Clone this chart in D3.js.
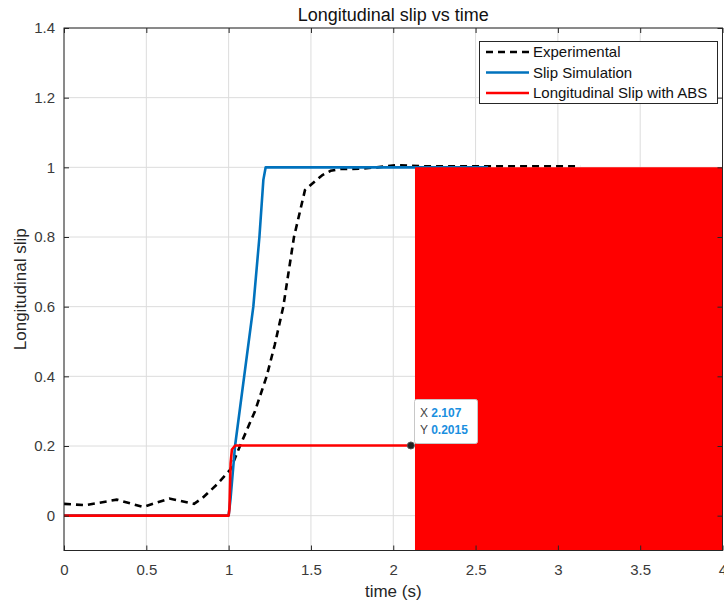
<!DOCTYPE html>
<html>
<head>
<meta charset="utf-8">
<script src="https://cdn.jsdelivr.net/npm/d3@7"></script>
<style>
  html, body { margin: 0; padding: 0; background: #fff; }
  svg { display: block; font-family: "Liberation Sans", Arial, sans-serif; }
</style>
</head>
<body>
<svg id="chart" width="724" height="604"></svg>
<script>
// ---------- data ----------
const xTicks = [0, 0.5, 1, 1.5, 2, 2.5, 3, 3.5, 4];
const yTicks = [0, 0.2, 0.4, 0.6, 0.8, 1, 1.2, 1.4];
const xTickLabels = ["0", "0.5", "1", "1.5", "2", "2.5", "3", "3.5", "4"];
const yTickLabels = ["0", "0.2", "0.4", "0.6", "0.8", "1", "1.2", "1.4"];

const expTime  = [0, 0.13, 0.32, 0.48, 0.64, 0.79, 0.84, 0.93, 1.01, 1.069, 1.16, 1.231, 1.28, 1.332, 1.397, 1.464, 1.525, 1.57, 1.62, 1.68, 1.80, 1.90, 2.02, 2.20, 2.50, 2.80, 3.135];
const expSlip  = [0.034, 0.030, 0.046, 0.025, 0.049, 0.034, 0.050, 0.090, 0.132, 0.200, 0.300, 0.400, 0.490, 0.600, 0.800, 0.935, 0.960, 0.978, 0.990, 0.995, 0.996, 1.000, 1.006, 1.003, 1.003, 1.003, 1.003];

const simTime  = [0, 1.0, 1.012, 1.039, 1.15, 1.187, 1.211, 1.225, 1.5, 2.0, 2.576];
const simSlip  = [0, 0, 0.05, 0.20, 0.60, 0.80, 0.964, 1.0, 1.0, 1.0, 1.0];

const absTime  = [0, 1.0, 1.005, 1.012, 1.02, 1.04, 1.5, 2.107];
const absSlip  = [0, 0, 0.02, 0.15, 0.19, 0.2015, 0.2015, 0.2015];

// ABS chattering region (rapid oscillation rendered as a solid band)
const chatterTime = [2.132, 4];
const chatterHigh = [1.0, 1.0];
const chatterLow  = [-0.15, -0.15];

const tipX = 2.107, tipY = 0.2015;

const seriesNames = ["Experimental", "Slip Simulation", "Longitudinal Slip with ABS"];
const seriesColors = ["#000000", "#0072BD", "#FF0000"];

// ---------- layout ----------
const svg = d3.select("#chart");
const L = 64, T = 28, R = 722.5, B = 550.5;
const x = d3.scaleLinear().domain([0, 4]).range([L, R]);
const y = d3.scaleLinear().domain([-0.1, 1.4]).range([B, T]);
const axisCol = "#262626";

svg.append("defs").append("clipPath").attr("id", "clip")
  .append("rect").attr("x", L).attr("y", T).attr("width", R - L).attr("height", B - T);

// grid
const grid = svg.append("g");
grid.selectAll(".gx").data(xTicks).join("line")
  .attr("x1", d => x(d)).attr("x2", d => x(d)).attr("y1", T).attr("y2", B)
  .attr("stroke", "#dcdcdc").attr("stroke-width", 1);
grid.selectAll(".gy").data(yTicks).join("line")
  .attr("y1", d => y(d)).attr("y2", d => y(d)).attr("x1", L).attr("x2", R)
  .attr("stroke", "#dcdcdc").attr("stroke-width", 1);

const plot = svg.append("g").attr("clip-path", "url(#clip)");
const line = d3.line().x(d => x(d[0])).y(d => y(d[1]));

// experimental
plot.append("path")
  .datum(expTime.map((t, i) => [t, expSlip[i]]))
  .attr("d", line).attr("fill", "none")
  .attr("stroke", seriesColors[0]).attr("stroke-width", 2.6)
  .attr("stroke-dasharray", "7,5");

// simulation
plot.append("path")
  .datum(simTime.map((t, i) => [t, simSlip[i]]))
  .attr("d", line).attr("fill", "none")
  .attr("stroke", seriesColors[1]).attr("stroke-width", 2.6)
  .attr("stroke-linejoin", "round");

// ABS
plot.append("path")
  .datum(absTime.map((t, i) => [t, absSlip[i]]))
  .attr("d", line).attr("fill", "none")
  .attr("stroke", seriesColors[2]).attr("stroke-width", 2.6)
  .attr("stroke-linejoin", "round");

const area = d3.area().x(d => x(d[0])).y0(d => y(d[2])).y1(d => y(d[1]));
plot.append("path")
  .datum(chatterTime.map((t, i) => [t, chatterHigh[i], chatterLow[i]]))
  .attr("d", area).attr("fill", seriesColors[2]);

// axes
const gx = svg.append("g").attr("transform", `translate(0,${B})`)
  .call(d3.axisBottom(x).tickValues(xTicks).tickFormat((d, i) => xTickLabels[i]).tickSize(-5).tickPadding(14));
const gy = svg.append("g").attr("transform", `translate(${L},0)`)
  .call(d3.axisLeft(y).tickValues(yTicks).tickFormat((d, i) => yTickLabels[i]).tickSize(-5).tickPadding(9));
const gxTop = svg.append("g").attr("transform", `translate(0,${T})`)
  .call(d3.axisTop(x).tickValues(xTicks).tickFormat("").tickSize(-5));
const gyRight = svg.append("g").attr("transform", `translate(${R},0)`)
  .call(d3.axisRight(y).tickValues(yTicks).tickFormat("").tickSize(-5));
[gx, gy, gxTop, gyRight].forEach(g => {
  g.selectAll("path").attr("stroke", axisCol).attr("stroke-width", 1);
  g.selectAll("line").attr("stroke", axisCol).attr("stroke-width", 1);
  g.selectAll("text").attr("fill", "#3a3a3a").style("font-size", "15px")
    .style("font-family", "'Liberation Sans', Arial, sans-serif");
});
gx.select(".domain").remove();
gy.select(".domain").remove();
gxTop.select(".domain").remove();
gyRight.select(".domain").remove();
svg.append("rect").attr("x", L).attr("y", T).attr("width", R - L).attr("height", B - T)
  .attr("fill", "none").attr("stroke", axisCol).attr("stroke-width", 1);

// titles
svg.append("text").attr("x", (L + R) / 2).attr("y", 21).attr("text-anchor", "middle")
  .attr("fill", "#111").style("font-size", "18px").text("Longitudinal slip vs time");
svg.append("text").attr("x", (L + R) / 2).attr("y", 597).attr("text-anchor", "middle")
  .attr("fill", "#262626").style("font-size", "17px").text("time (s)");
svg.append("text").attr("transform", `translate(25.5,${(T + B) / 2}) rotate(-90)`)
  .attr("text-anchor", "middle").attr("fill", "#262626").style("font-size", "17px")
  .text("Longitudinal slip");

// legend
const lg = svg.append("g");
lg.append("rect").attr("x", 479.5).attr("y", 41.5).attr("width", 238).attr("height", 62)
  .attr("fill", "#fff").attr("stroke", axisCol).attr("stroke-width", 1);
seriesNames.forEach((n, i) => {
  const yy = 52 + i * 20.5;
  lg.append("line").attr("x1", 486).attr("x2", 529).attr("y1", yy).attr("y2", yy)
    .attr("stroke", seriesColors[i]).attr("stroke-width", 2.6)
    .attr("stroke-dasharray", i === 0 ? "7,5" : null);
  lg.append("text").attr("x", 533).attr("y", yy + 5).attr("fill", "#111")
    .style("font-size", "15px").text(n);
});

// data tip
const tip = svg.append("g");
tip.append("rect").attr("x", 414.5).attr("y", 399.5).attr("width", 63).attr("height", 44)
  .attr("rx", 2).attr("fill", "#fff").attr("stroke", "#c8c8c8").attr("stroke-width", 1);
const t1 = tip.append("text").attr("x", 420).attr("y", 417).style("font-size", "12px");
t1.append("tspan").attr("fill", "#444").text("X ");
t1.append("tspan").attr("fill", "#1a8fe0").attr("font-weight", "bold").text(String(tipX));
const t2 = tip.append("text").attr("x", 420).attr("y", 434).style("font-size", "12px");
t2.append("tspan").attr("fill", "#444").text("Y ");
t2.append("tspan").attr("fill", "#1a8fe0").attr("font-weight", "bold").text(String(tipY));
tip.append("circle").attr("cx", x(tipX)).attr("cy", y(tipY)).attr("r", 3.5)
  .attr("fill", "#222").attr("stroke", "#555").attr("stroke-width", 1);
</script>
</body>
</html>
